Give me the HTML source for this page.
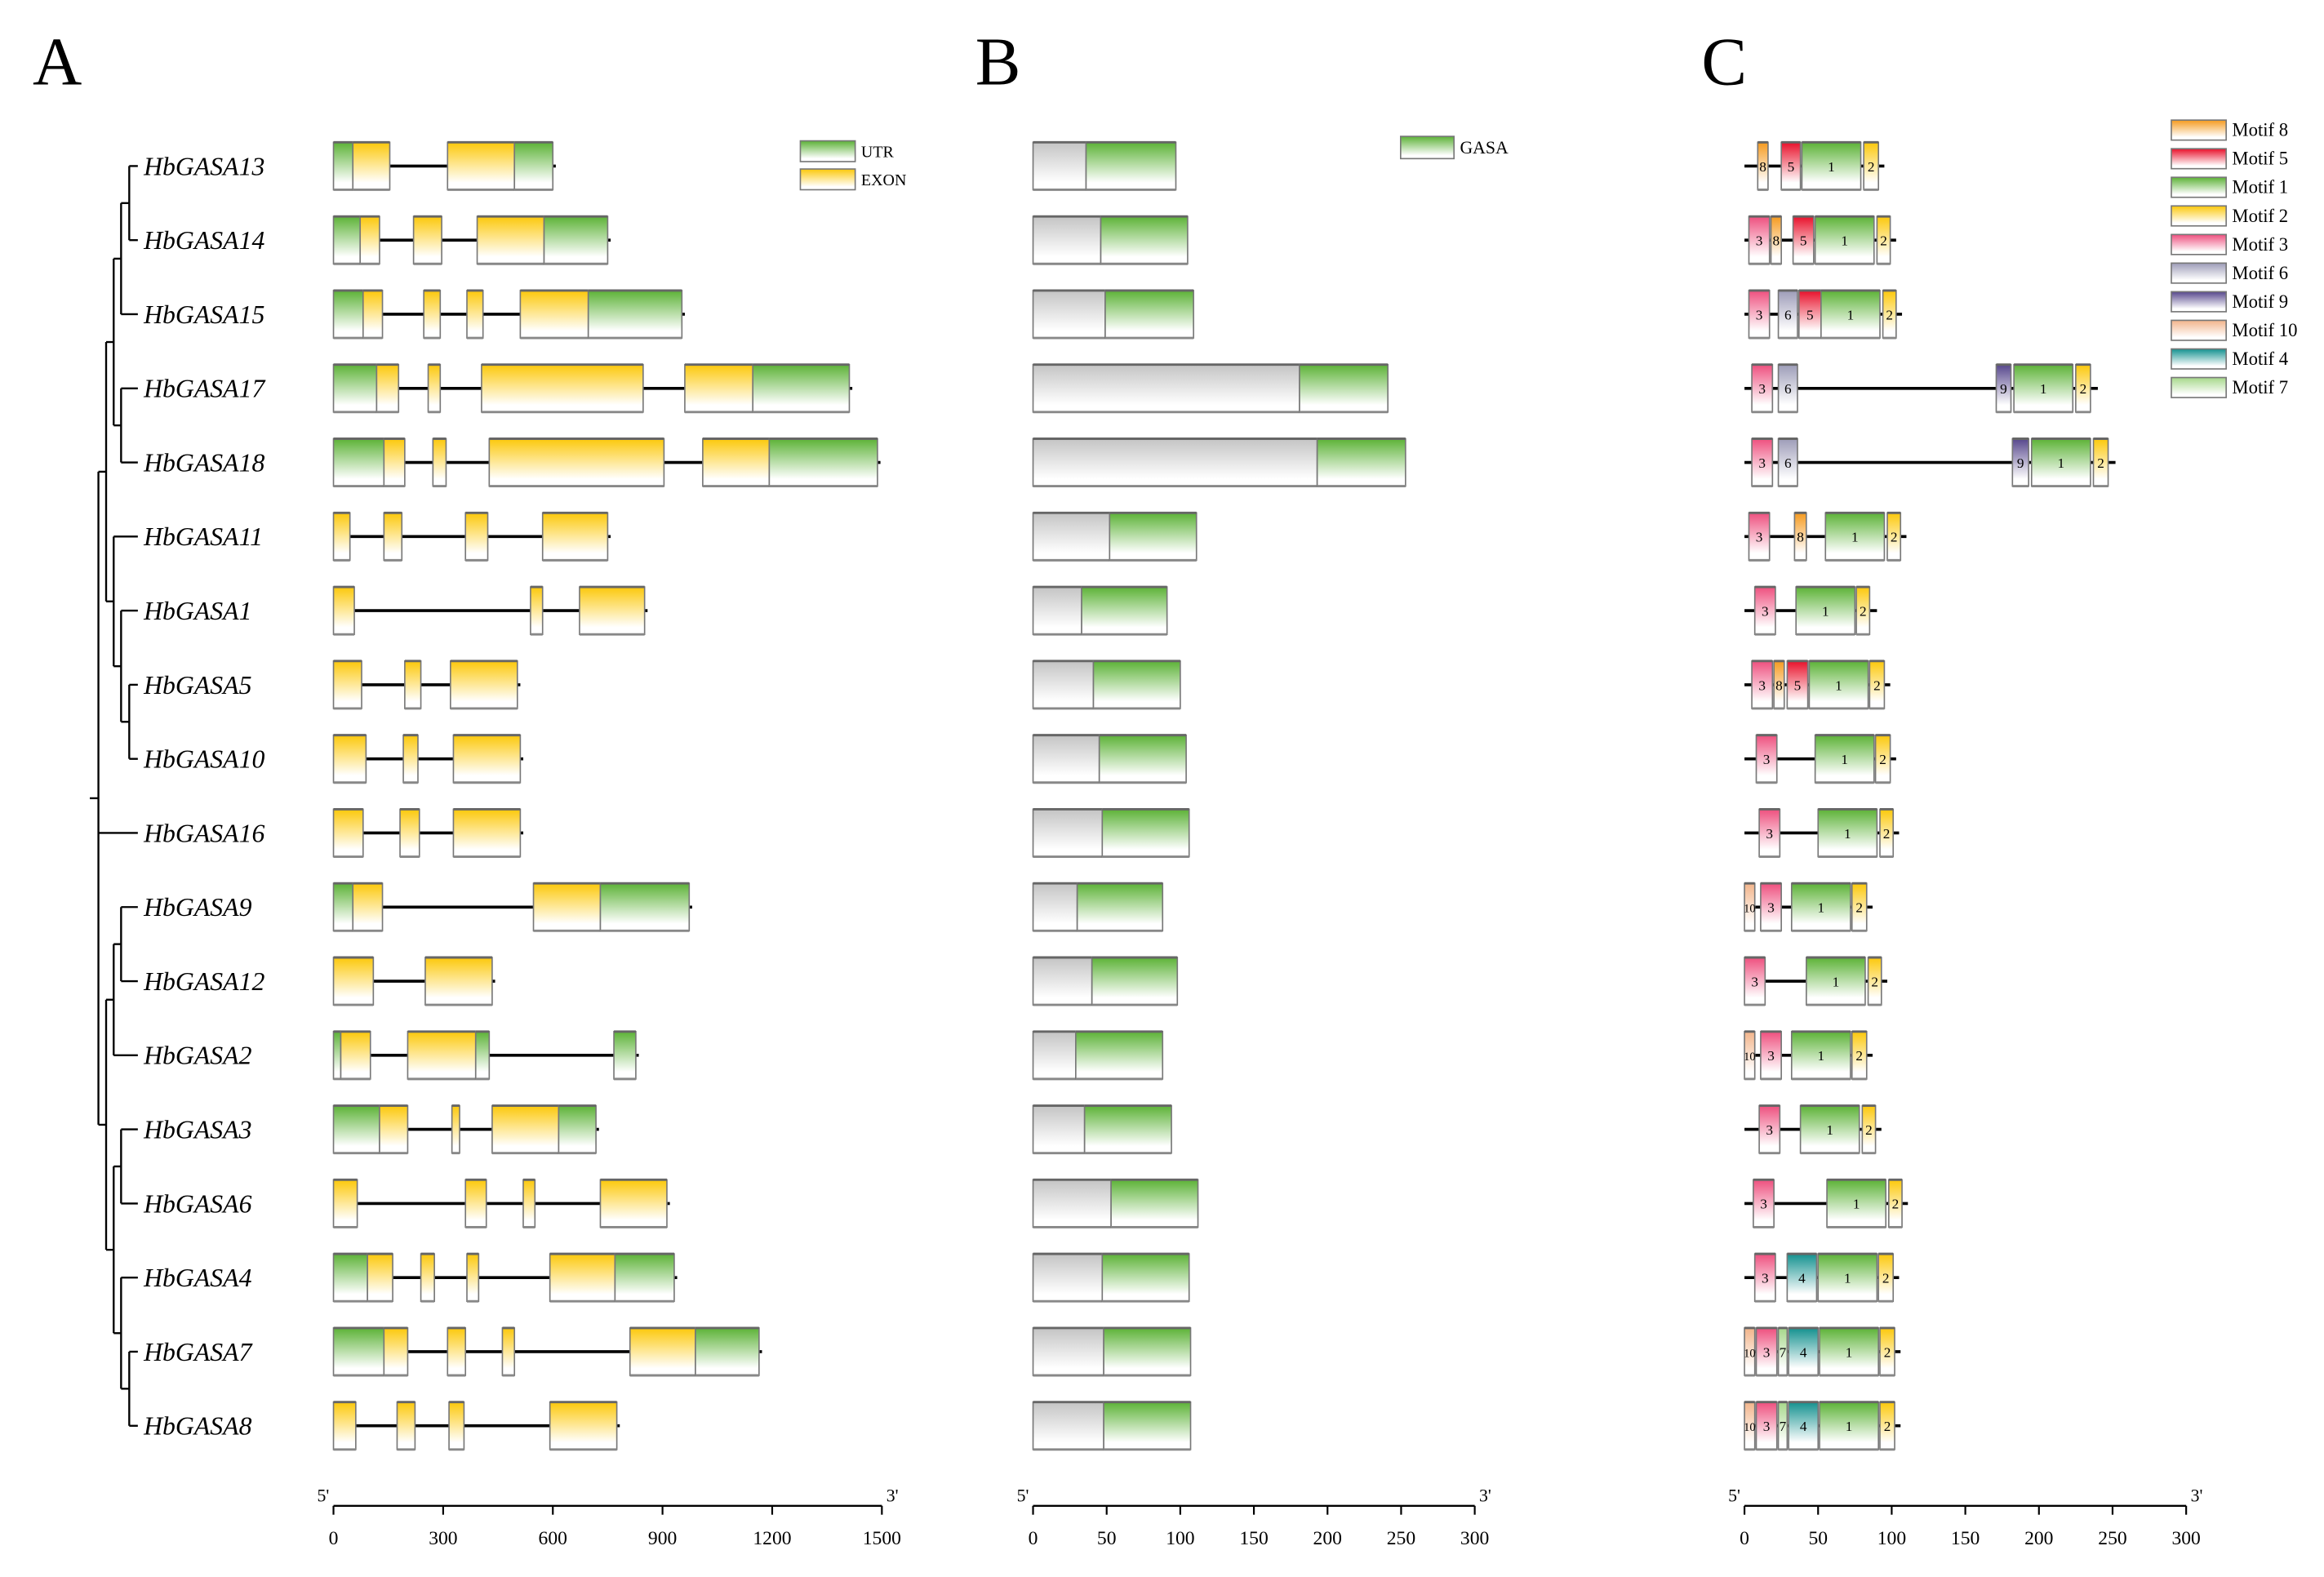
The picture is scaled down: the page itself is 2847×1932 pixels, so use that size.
<!DOCTYPE html>
<html><head><meta charset="utf-8"><style>
html,body{margin:0;padding:0;background:#fff;}
svg{display:block;}
text{font-family:"Liberation Serif",serif;}
</style></head><body>
<svg id="fig" xmlns="http://www.w3.org/2000/svg" width="2847" height="1932" viewBox="0 0 1568 1064">
<defs>
<linearGradient id="gG" x1="0" y1="0" x2="0" y2="1"><stop offset="0" stop-color="#5cb236"/><stop offset="0.85" stop-color="#fff"/></linearGradient>
<linearGradient id="gY" x1="0" y1="0" x2="0" y2="1"><stop offset="0" stop-color="#fcc80a"/><stop offset="0.85" stop-color="#fff"/></linearGradient>
<linearGradient id="gGray" x1="0" y1="0" x2="0" y2="1"><stop offset="0" stop-color="#c4c4c4"/><stop offset="0.85" stop-color="#fff"/></linearGradient>
</defs>
<g id="tree"></g>
<g id="panelA"></g>
<g id="panelB"></g>
<g id="panelC"></g>
<text x="22" y="57" font-size="46">A</text>
<text x="658" y="57" font-size="46">B</text>
<text x="1148" y="57" font-size="46">C</text>
</svg>
<script>
const genes = ["HbGASA13","HbGASA14","HbGASA15","HbGASA17","HbGASA18","HbGASA11","HbGASA1","HbGASA5","HbGASA10","HbGASA16","HbGASA9","HbGASA12","HbGASA2","HbGASA3","HbGASA6","HbGASA4","HbGASA7","HbGASA8"];
// gene structure segments: [start,end,type] U=UTR E=EXON (bp)
const structures = [
 [[0,53,"U"],[53,154,"E"],[312,495,"E"],[495,600,"U"]],
 [[0,73,"U"],[73,126,"E"],[219,296,"E"],[393,576,"E"],[576,750,"U"]],
 [[0,81,"U"],[81,134,"E"],[247,292,"E"],[365,409,"E"],[511,697,"E"],[697,953,"U"]],
 [[0,118,"U"],[118,178,"E"],[259,292,"E"],[405,847,"E"],[961,1147,"E"],[1147,1411,"U"]],
 [[0,138,"U"],[138,195,"E"],[272,308,"E"],[426,904,"E"],[1010,1192,"E"],[1192,1488,"U"]],
 [[0,45,"E"],[138,187,"E"],[361,422,"E"],[572,750,"E"]],
 [[0,57,"E"],[539,572,"E"],[673,851,"E"]],
 [[0,77,"E"],[195,239,"E"],[320,503,"E"]],
 [[0,89,"E"],[191,231,"E"],[328,511,"E"]],
 [[0,81,"E"],[182,235,"E"],[328,511,"E"]],
 [[0,53,"U"],[53,134,"E"],[547,730,"E"],[730,973,"U"]],
 [[0,109,"E"],[251,434,"E"]],
 [[0,20,"U"],[20,101,"E"],[203,389,"E"],[389,426,"U"],[767,827,"U"]],
 [[0,126,"U"],[126,203,"E"],[324,345,"E"],[434,616,"E"],[616,718,"U"]],
 [[0,65,"E"],[361,418,"E"],[519,551,"E"],[730,912,"E"]],
 [[0,93,"U"],[93,162,"E"],[239,276,"E"],[365,397,"E"],[592,770,"E"],[770,932,"U"]],
 [[0,138,"U"],[138,203,"E"],[312,361,"E"],[462,495,"E"],[811,990,"E"],[990,1164,"U"]],
 [[0,61,"E"],[174,223,"E"],[316,357,"E"],[592,775,"E"]]
];
// protein: GASA domain start and protein length (aa)
const gasaStart = [36,46,49,181,193,52,33,41,45,47,30,40,29,35,53,47,48,48];
const protLen = [97,105,109,241,253,111,91,100,104,106,88,98,88,94,112,106,107,107];
// motifs: [motif, start, end] (aa)
const motifs = [
 [[8,9,16],[5,25,38],[1,39,79],[2,81,91]],
 [[3,3,17],[8,18,25],[5,33,47],[1,48,88],[2,90,99]],
 [[3,3,17],[6,23,36],[5,37,52],[1,52,92],[2,94,103]],
 [[3,5,19],[6,23,36],[9,171,181],[1,183,223],[2,225,235]],
 [[3,5,19],[6,23,36],[9,182,193],[1,195,235],[2,237,247]],
 [[3,3,17],[8,34,42],[1,55,95],[2,97,106]],
 [[3,7,21],[1,35,75],[2,76,85]],
 [[3,5,19],[8,20,27],[5,29,43],[1,44,84],[2,85,95]],
 [[3,8,22],[1,48,88],[2,89,99]],
 [[3,10,24],[1,50,90],[2,92,101]],
 [[10,0,7],[3,11,25],[1,32,72],[2,73,83]],
 [[3,0,14],[1,42,82],[2,84,93]],
 [[10,0,7],[3,11,25],[1,32,72],[2,73,83]],
 [[3,10,24],[1,38,78],[2,80,89]],
 [[3,6,20],[1,56,96],[2,98,107]],
 [[3,7,21],[4,29,49],[1,50,90],[2,91,101]],
 [[10,0,7],[3,8,22],[7,23,29],[4,30,50],[1,51,91],[2,92,102]],
 [[10,0,7],[3,8,22],[7,23,29],[4,30,50],[1,51,91],[2,92,102]]
];
const motifEnd = [95,103,107,240,252,110,90,99,103,105,87,97,87,93,111,105,106,106];
const motifOrder = [8,5,1,2,3,6,9,10,4,7];
const motifColors = {8:"#f59a1e",5:"#e8102a",1:"#5cb236",2:"#fcc80a",3:"#ee4f7e",6:"#9d9cb8",9:"#56468c",10:"#f2b48a",4:"#13918f",7:"#a6d88a"};
const ticksA = [0,300,600,900,1200,1500];
const ticksBC = [0,50,100,150,200,250,300];

const NS="http://www.w3.org/2000/svg";
function mk(tag, attrs, parent){const e=document.createElementNS(NS,tag);for(const k in attrs)e.setAttribute(k,attrs[k]);parent.appendChild(e);return e;}
const rowY = i => 112 + 50*i;
const xA = v => 225 + v*(370/1500);
const xB = v => 697 + v*(298/300);
const xC = v => 1177 + v*(298/300);
const H = 32;

// gradients for motifs
const defs = document.querySelector("defs");
motifOrder.forEach(m=>{
  const g=mk("linearGradient",{id:"gm"+m,x1:0,y1:0,x2:0,y2:1},defs);
  mk("stop",{offset:0,"stop-color":motifColors[m]},g);
  mk("stop",{offset:0.85,"stop-color":"#fff"},g);
});

// tree
const tree=document.getElementById("tree");
const tx={a:87.2,b:81.7,c:76.7,d:81.7,e:71.6,f:76.7,g:81.7,h:87.2,r:66.4,i:71.6,j:76.7,l:81.7,k:76.7,m:81.7,n:81.7,o:87.2};
const nodes={ // [x, childA, childB]  child: number=leaf row, string=node
 a:[0,1],b:["a",2],d:[3,4],c:["b","d"],h:[7,8],g:[6,"h"],f:[5,"g"],e:["c","f"],
 l:[10,11],j:["l",12],m:[13,14],o:[16,17],n:[15,"o"],k:["m","n"],i:["j","k"]
};
const nodeRow={};
function rowOf(c){if(typeof c==="number")return c; if(nodeRow[c]===undefined){const[p,q]=nodes[c];nodeRow[c]=(rowOf(p)+rowOf(q))/2;}return nodeRow[c];}
function line(x1,y1,x2,y2,p,name){const l=mk("line",{x1,y1,x2,y2,stroke:"#000","stroke-width":1.3},p);}
function xOf(c){return typeof c==="number"?93:tx[c];}
for(const n in nodes){
  const[p,q]=nodes[n]; const x=tx[n];
  const yp=rowY(rowOf(p)), yq=rowY(rowOf(q));
  line(x,yp,x,yq,tree,"tree-node-"+n);
  line(x,yp,xOf(p),yp,tree,"tree-branch");
  line(x,yq,xOf(q),yq,tree,"tree-branch");
}
// root
const ye=rowY(rowOf("e")), yi=rowY(rowOf("i"));
line(tx.r,ye,tx.r,yi,tree,"tree-root");
line(tx.r,ye,tx.e,ye,tree,"tree-branch");
line(tx.r,yi,tx.i,yi,tree,"tree-branch");
line(tx.r,rowY(9),93,rowY(9),tree,"tree-branch");
line(60.6,(ye+yi)/2,tx.r,(ye+yi)/2,tree,"tree-root-stub");

// labels
genes.forEach((g,i)=>{
  const t=mk("text",{x:97,y:rowY(i)+6,"font-size":17.5,"font-style":"italic"},tree);
  t.textContent=g;
  
  
});

function box(p,x1,x2,y,fill,name){
  const r=mk("rect",{x:x1,y:y-H/2,width:Math.max(x2-x1,0.5),height:H,fill:fill,stroke:"#777","stroke-width":0.9},p);
  
  
  mk("line",{x1:x1,y1:y-H/2,x2:x2,y2:y-H/2,stroke:"#666","stroke-width":1.6},p);
  mk("line",{x1:x1,y1:y+H/2,x2:x2,y2:y+H/2,stroke:"#888","stroke-width":1.6},p);
  return r;
}
// Panel A
const A=document.getElementById("panelA");
structures.forEach((segs,i)=>{
  const y=rowY(i), end=segs[segs.length-1][1];
  const l=mk("line",{x1:xA(0),y1:y,x2:xA(end)+2,y2:y,stroke:"#000","stroke-width":2},A);
  
  
  segs.forEach(s=>box(A,xA(s[0]),xA(s[1]),y,s[2]==="U"?"url(#gG)":"url(#gY)",s[2]==="U"?"utr-block":"exon-block"));
});
// Panel B
const B=document.getElementById("panelB");
genes.forEach((g,i)=>{
  const y=rowY(i);
  box(B,xB(0),xB(gasaStart[i]),y,"url(#gGray)","protein-region");
  box(B,xB(gasaStart[i]),xB(protLen[i]),y,"url(#gG)","gasa-domain");
});
// Panel C
const C=document.getElementById("panelC");
motifs.forEach((ms,i)=>{
  const y=rowY(i);
  const l=mk("line",{x1:xC(0),y1:y,x2:xC(motifEnd[i]),y2:y,stroke:"#000","stroke-width":2},C);
  
  
  ms.forEach(m=>{
    box(C,xC(m[1]),xC(m[2]),y,"url(#gm"+m[0]+")","motif-"+m[0]);
    const t=mk("text",{x:(xC(m[1])+xC(m[2]))/2,y:y+3.5,"font-size":m[0]===10?8:9.5,"text-anchor":"middle"},C);
    t.textContent=m[0];
    
    
  });
});
// legends
function legend(p,x,y,w,h,fill,label,fs,name){
  const r=mk("rect",{x:x,y:y,width:w,height:h,fill:fill,stroke:"#777","stroke-width":0.9},p);
  
  
  const t=mk("text",{x:x+w+4,y:y+h/2+4,"font-size":fs},p);
  t.textContent=label;
  
  
}
legend(A,540,95,37,14,"url(#gG)","UTR",11,"legend-utr");
legend(A,540,114,37,14,"url(#gY)","EXON",11,"legend-exon");
legend(B,945,92,36,15,"url(#gG)","GASA",12,"legend-gasa");
motifOrder.forEach((m,k)=>{
  legend(C,1465,81+19.3*k,37,13.5,"url(#gm"+m+")","Motif "+m,12.5,"legend-motif-"+m);
});
// axes
function axis(p,x0,x1,scale,ticks,name){
  const g=mk("g",{},p);
  
  
  mk("line",{x1:x0,y1:1016,x2:x1,y2:1016,stroke:"#000","stroke-width":1.3},g);
  ticks.forEach(t=>{
    const x=scale(t);
    mk("line",{x1:x,y1:1016,x2:x,y2:1022,stroke:"#000","stroke-width":1.2},g);
    const tt=mk("text",{x:x,y:1042,"font-size":13,"text-anchor":"middle"},g);
    tt.textContent=t;
    
    
  });
  const a=mk("text",{x:x0-11,y:1013,"font-size":12},g); a.textContent="5'";
  const b=mk("text",{x:x1+3,y:1013,"font-size":12},g); b.textContent="3'";
}
axis(A,xA(0),xA(1500),xA,ticksA,"x-axis-a");
axis(B,xB(0),xB(300),xB,ticksBC,"x-axis-b");
axis(C,xC(0),xC(300),xC,ticksBC,"x-axis-c");
</script>
</body></html>
